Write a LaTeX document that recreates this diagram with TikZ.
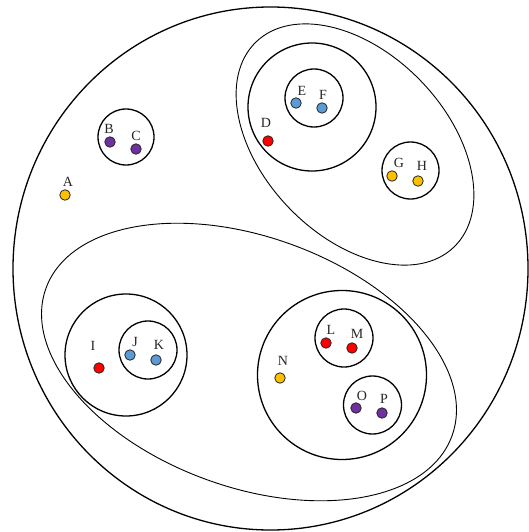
\documentclass[tikz,border=0pt]{standalone}
\usepackage{fontspec}
\setmainfont{Liberation Serif}
\begin{document}
\begin{tikzpicture}[x=1pt,y=-1pt,
  setline/.style={line width=1.3pt,draw=black},
  thinset/.style={line width=0.9pt,draw=black},
  dot/.style={circle,draw=black!85,line width=0.8pt,minimum size=10.5pt,inner sep=0pt},
  lbl/.style={font=\fontsize{14}{14}\selectfont,inner sep=0pt,text=black!85}]
\definecolor{cblue}{RGB}{91,155,213}
\definecolor{cred}{RGB}{255,0,0}
\definecolor{cyel}{RGB}{255,192,0}
\definecolor{cpur}{RGB}{112,48,160}
\useasboundingbox (0,0) rectangle (528,532);
\fill[white] (0,0) rectangle (528,532);
% outer set
\draw[setline] (270.5,268.5) ellipse [x radius=257.5, y radius=261.5];
% upper-right ellipse
\draw[thinset,rotate around={-46:(355,144.5)}] (355,144.5) ellipse [x radius=142.5, y radius=91.5];
% lower ellipse
\draw[thinset,rotate around={-20:(249,362)}] (249,362) ellipse [x radius=216, y radius=125];
% circles
\draw[setline] (126,137) circle [radius=28];
\draw[setline] (312,107) circle [radius=64];
\draw[setline] (314,98) circle [radius=29];
\draw[setline] (410.5,170.5) circle [radius=28.5];
\draw[setline] (126,355) circle [radius=61];
\draw[setline] (148,350) circle [radius=29];
\draw[setline] (342,375) circle [radius=84.5];
\draw[setline] (344,338) circle [radius=29];
\draw[setline] (372.5,405) circle [radius=29];
% dots
\node[dot,fill=cyel] (A) at (65,195) {};
\node[dot,fill=cpur] (B) at (110,142) {};
\node[dot,fill=cpur] (C) at (136,149) {};
\node[dot,fill=cred] (D) at (268,141) {};
\node[dot,fill=cblue] (E) at (296,103) {};
\node[dot,fill=cblue] (F) at (322,108) {};
\node[dot,fill=cyel] (G) at (392,176) {};
\node[dot,fill=cyel] (H) at (418,181) {};
\node[dot,fill=cred] (I) at (99,368) {};
\node[dot,fill=cblue] (J) at (130,355) {};
\node[dot,fill=cblue] (K) at (156,360) {};
\node[dot,fill=cred] (L) at (326,343) {};
\node[dot,fill=cred] (M) at (352,348) {};
\node[dot,fill=cyel] (N) at (280,378) {};
\node[dot,fill=cpur] (O) at (356,408) {};
\node[dot,fill=cpur] (P) at (382,413) {};
% labels
\node[lbl] (lA) at (68,182) {A};
\node[lbl] (lB) at (109,129) {B};
\node[lbl] (lC) at (136,136) {C};
\node[lbl] (lD) at (266,123) {D};
\node[lbl] (lE) at (302,91) {E};
\node[lbl] (lF) at (323,95) {F};
\node[lbl] (lG) at (399,163) {G};
\node[lbl] (lH) at (422,166) {H};
\node[lbl] (lI) at (93,346) {I};
\node[lbl] (lJ) at (135,342) {J};
\node[lbl] (lK) at (159,345) {K};
\node[lbl] (lL) at (331,330) {L};
\node[lbl] (lM) at (357,334) {M};
\node[lbl] (lN) at (283,361) {N};
\node[lbl] (lO) at (362,396) {O};
\node[lbl] (lP) at (384,399) {P};
\end{tikzpicture}
\end{document}
